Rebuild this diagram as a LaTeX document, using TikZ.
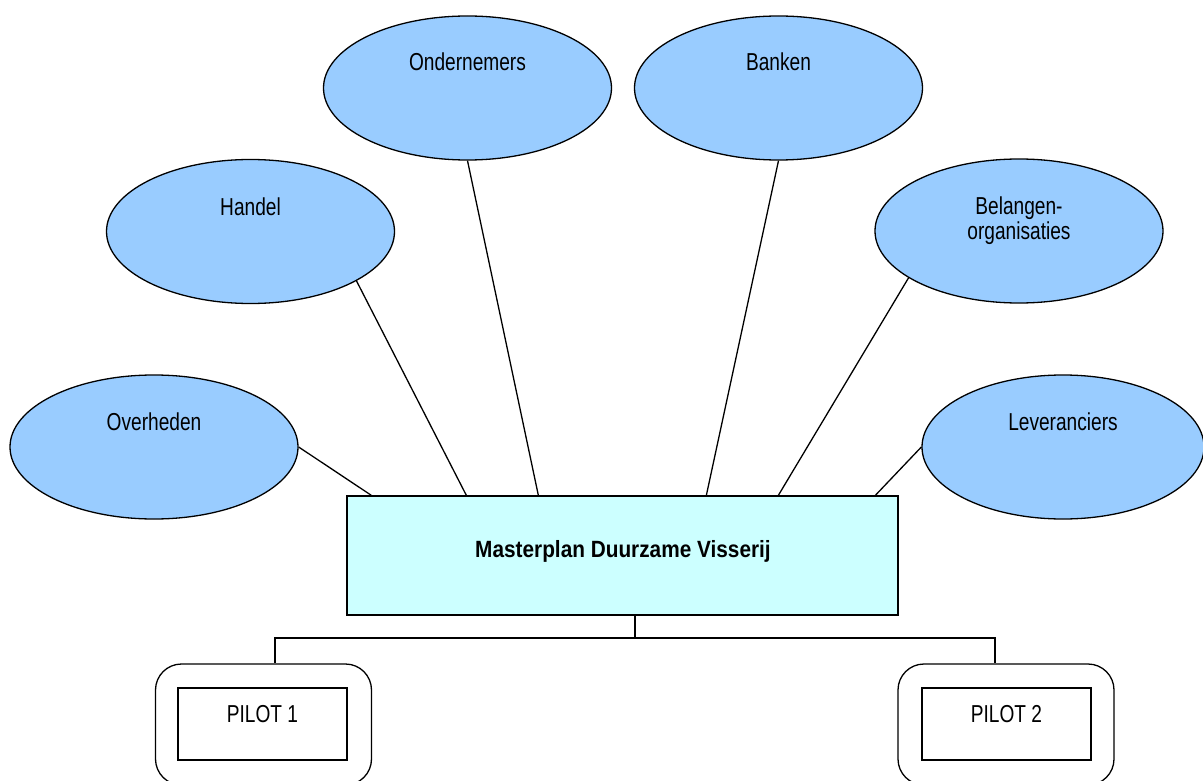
\documentclass[tikz,border=0pt]{standalone}
\usepackage{fontspec}
\setmainfont{Liberation Sans}[FakeStretch=0.78]
\newfontfamily\boldfam{Liberation Sans}[FakeStretch=0.885]
\usetikzlibrary{shapes.geometric,calc}
\definecolor{ellfill}{HTML}{99CCFF}
\definecolor{boxfill}{HTML}{CCFFFF}
\tikzset{
  ell/.style={ellipse, draw=black, line width=1.3pt, fill=ellfill, minimum width=288pt, minimum height=144pt, inner sep=0pt},
  lbl/.style={font=\fontsize{24.5}{25}\selectfont, align=center, inner sep=0pt},
  conn/.style={line width=1.3pt, draw=black},
  mainbox/.style={rectangle, draw=black, line width=1.3pt, fill=boxfill, minimum width=551pt, minimum height=119pt, inner sep=0pt, font=\boldfam\bfseries\fontsize{23.5}{26}\selectfont},
  outerbox/.style={rectangle, rounded corners=26pt, draw=black, line width=1.3pt, fill=white, minimum width=216pt, minimum height=121pt, inner sep=0pt},
  innerbox/.style={rectangle, draw=black, line width=1.3pt, fill=white, minimum width=169pt, minimum height=72pt, inner sep=0pt}
}
\begin{document}
\begin{tikzpicture}[x=1pt,y=-1pt]
\clip (0,0) rectangle (1203,781);
\fill[white] (0,0) rectangle (1203,781);
% main box
\node[mainbox] (mp) at (622.5,555.5) {};
\node[inner sep=0pt, font=\boldfam\bfseries\fontsize{23.5}{26}\selectfont] (tmp) at (623,551) {Masterplan Duurzame Visserij};
% ellipses
\node[ell] (ov) at (154,447) {};
\node[ell] (ha) at (250.5,231.5) {};
\node[ell] (on) at (467.5,88) {};
\node[ell] (ba) at (778.5,88) {};
\node[ell] (be) at (1019,231) {};
\node[ell, minimum width=282pt] (le) at (1063,447) {};
% labels
\node[lbl] (tov) at (154,422) {Overheden};
\node[lbl] (tha) at (250.5,207) {Handel};
\node[lbl] (ton) at (467.5,62) {Ondernemers};
\node[lbl] (tba) at (778.5,62) {Banken};
\node[lbl] (tbe) at (1019,221) {Belangen-\\organisaties};
\node[lbl] (tle) at (1063,422) {Leveranciers};
% connectors
\draw[conn] (ov.east) -- ([xshift=25pt]mp.north west);
\draw[conn] (ha.-25) -- ([xshift=120pt]mp.north west);
\draw[conn] (on.south) -- ([xshift=192pt]mp.north west);
\draw[conn] (ba.south) -- ([xshift=360pt]mp.north west);
\draw[conn] (be.203.6) -- ([xshift=432pt]mp.north west);
\draw[conn] (le.west) -- ([xshift=529pt]mp.north west);
% pilots
\node[outerbox] (p1) at (263.5,724.5) {};
\node[innerbox] (i1) at (262.5,724) {};
\node[lbl] (t1) at (262.5,714) {PILOT 1};
\node[outerbox] (p2) at (1006,724.5) {};
\node[innerbox] (i2) at (1006.5,724) {};
\node[lbl] (t2) at (1006.5,714) {PILOT 2};
\coordinate (hl) at (275,638);
\coordinate (hr) at (995,638);
\draw[conn] ([xshift=12.5pt]mp.south) |- (hl) -- (hl |- p1.north);
\draw[conn] ([xshift=12.5pt]mp.south) |- (hr) -- (hr |- p2.north);
\end{tikzpicture}
\end{document}
